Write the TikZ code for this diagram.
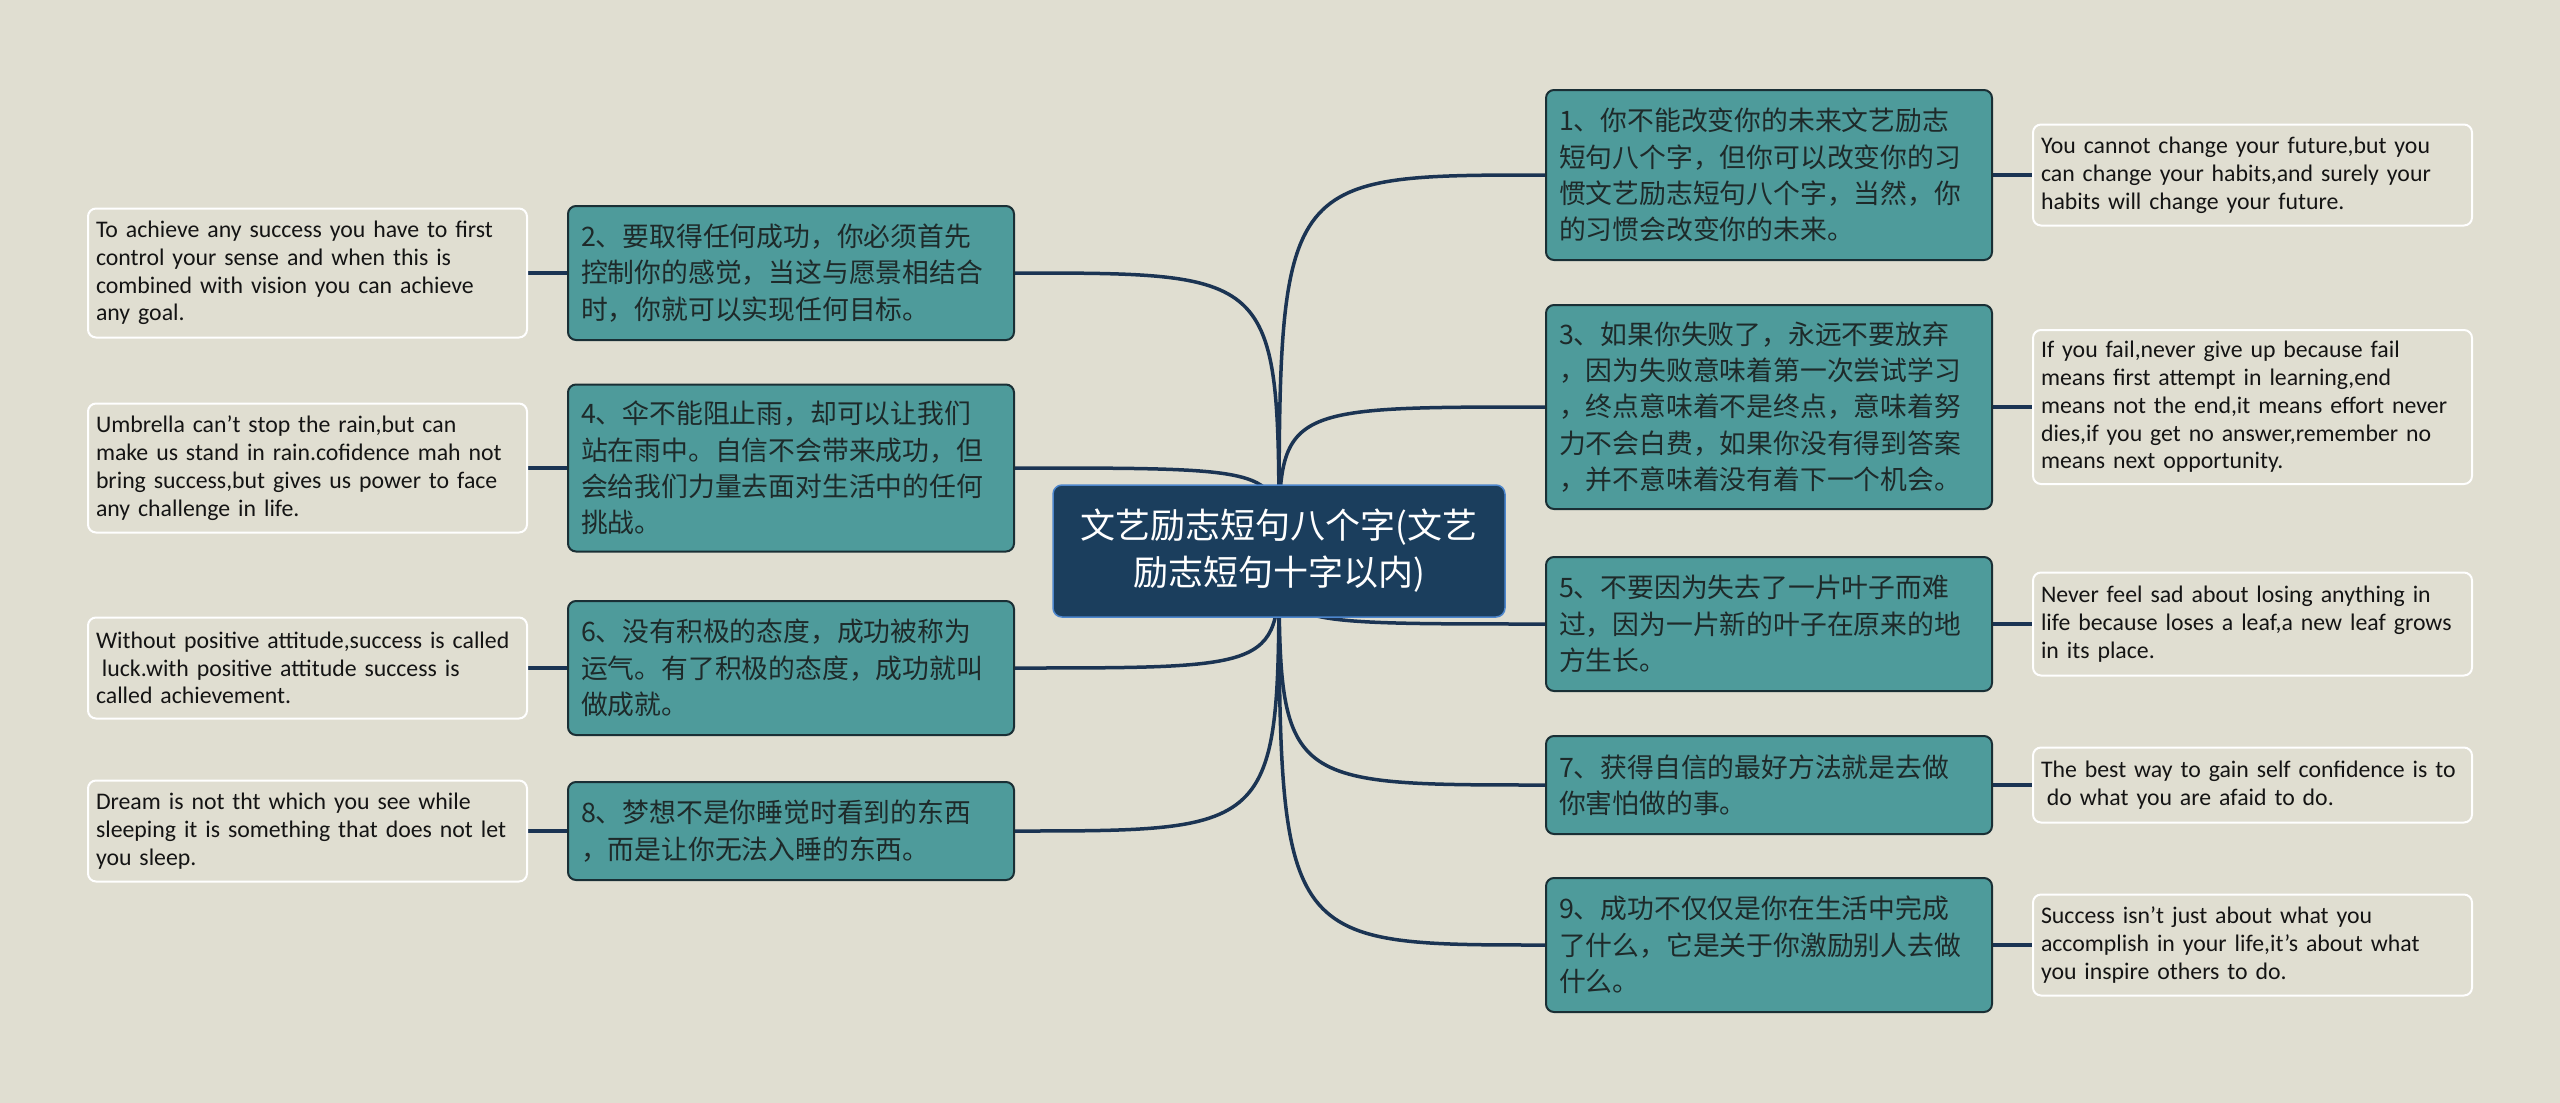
\documentclass[tikz,border=0pt]{standalone}
\usepackage{fontspec}
\setmainfont{Carlito}
\newfontfamily\cjk{Noto Sans CJK SC}
\usetikzlibrary{positioning}

\definecolor{paper}{HTML}{E0DED1}
\definecolor{linkcol}{HTML}{1B3453}
\definecolor{topicfill}{HTML}{1B3E5D}
\definecolor{topicline}{HTML}{4D86CC}
\definecolor{branchfill}{HTML}{4E9B9B}
\definecolor{branchline}{HTML}{1A2F35}
\definecolor{branchtext}{HTML}{1E2A2A}
\definecolor{notetext}{HTML}{141414}

\pgfdeclarelayer{back}
\pgfdeclarelayer{links}
\pgfsetlayers{back,links,main}

\begin{document}
\begin{tikzpicture}[
    x=1pt, y=-1pt,
    link/.style={draw=linkcol, line width=3.5pt},
    topic/.style={draw=topicline, fill=topicfill, rounded corners=9pt, line width=1.5pt,
                  text=white, font=\cjk\fontsize{35}{47}\selectfont, align=center,
                  minimum width=452pt, minimum height=132pt},
    branch/.style={draw=branchline, fill=branchfill, rounded corners=8pt, line width=2pt,
                   text=branchtext, font=\cjk\fontsize{26.8}{36.4}\selectfont,
                   minimum width=446pt, text width=420pt, align=left, inner sep=0pt},
    note/.style={draw=white, fill=paper, rounded corners=8pt, line width=2pt,
                 text=notetext, font=\fontsize{23.8}{27.8}\selectfont,
                 minimum width=439pt, text width=423pt, align=left, inner sep=0pt}
  ]
  \useasboundingbox (0,0) rectangle (2560,1103);
  \begin{pgfonlayer}{back}
    \fill[paper] (0,0) rectangle (2560,1103);
  \end{pgfonlayer}

  % central topic
  \node[topic] (topic) at (1279,551) {文艺励志短句八个字(文艺\\励志短句十字以内)};

  % right side
  \node[branch, minimum height=170pt] (b1) at (1769,175) {1、你不能改变你的未来文艺励志\\短句八个字，但你可以改变你的习\\惯文艺励志短句八个字，当然，你\\的习惯会改变你的未来。};
  \node[branch, minimum height=204pt] (b3) at (1769,407) {3、如果你失败了，永远不要放弃\\，因为失败意味着第一次尝试学习\\，终点意味着不是终点，意味着努\\力不会白费，如果你没有得到答案\\，并不意味着没有着下一个机会。};
  \node[branch, minimum height=134pt] (b5) at (1769,624) {5、不要因为失去了一片叶子而难\\过，因为一片新的叶子在原来的地\\方生长。};
  \node[branch, minimum height=98pt]  (b7) at (1769,785) {7、获得自信的最好方法就是去做\\你害怕做的事。};
  \node[branch, minimum height=134pt] (b9) at (1769,945) {9、成功不仅仅是你在生活中完成\\了什么，它是关于你激励别人去做\\什么。};

  \node[note, minimum height=101pt, right=39pt of b1] (n1) {You cannot change your future,but you\\can change your habits,and surely your\\habits will change your future.};
  \node[note, minimum height=154pt, right=39pt of b3] (n3) {If you fail,never give up because fail\\means first attempt in learning,end\\means not the end,it means effort never\\dies,if you get no answer,remember no\\means next opportunity.};
  \node[note, minimum height=103pt, right=39pt of b5] (n5) {Never feel sad about losing anything in\\life because loses a leaf,a new leaf grows\\in its place.};
  \node[note, minimum height=75pt,  right=39pt of b7] (n7) {The best way to gain self confidence is to\\\hspace*{.25em}do what you are afaid to do.};
  \node[note, minimum height=101pt, right=39pt of b9] (n9) {Success isn't just about what you\\accomplish in your life,it's about what\\you inspire others to do.};

  % left side
  \node[branch, minimum height=134pt] (b2) at (791,273) {2、要取得任何成功，你必须首先\\控制你的感觉，当这与愿景相结合\\时，你就可以实现任何目标。};
  \node[branch, minimum height=167pt] (b4) at (791,468) {4、伞不能阻止雨，却可以让我们\\站在雨中。自信不会带来成功，但\\会给我们力量去面对生活中的任何\\挑战。};
  \node[branch, minimum height=134pt] (b6) at (791,668) {6、没有积极的态度，成功被称为\\运气。有了积极的态度，成功就叫\\做成就。};
  \node[branch, minimum height=98pt]  (b8) at (791,831) {8、梦想不是你睡觉时看到的东西\\，而是让你无法入睡的东西。};

  \node[note, minimum height=129pt, left=39pt of b2] (n2) {To achieve any success you have to first\\control your sense and when this is\\combined with vision you can achieve\\any goal.};
  \node[note, minimum height=129pt, left=39pt of b4] (n4) {Umbrella can't stop the rain,but can\\make us stand in rain.cofidence mah not\\bring success,but gives us power to face\\any challenge in life.};
  \node[note, minimum height=101pt, left=39pt of b6] (n6) {Without positive attitude,success is called\\\hspace*{.25em}luck.with positive attitude success is\\called achievement.};
  \node[note, minimum height=101pt, left=39pt of b8] (n8) {Dream is not tht which you see while\\sleeping it is something that does not let\\you sleep.};

  % connectors
  \begin{pgfonlayer}{links}
    \foreach \b in {b1,b3,b5,b7,b9}
      \draw[link] (topic.center) .. controls (topic.center |- \b.west) .. (\b.west);
    \foreach \b in {b2,b4,b6,b8}
      \draw[link] (topic.center) .. controls (topic.center |- \b.east) .. (\b.east);
    \foreach \b/\n in {b1/n1,b3/n3,b5/n5,b7/n7,b9/n9}
      \draw[link] (\b.east) -- (\n.west);
    \foreach \b/\n in {b2/n2,b4/n4,b6/n6,b8/n8}
      \draw[link] (\b.west) -- (\n.east);
  \end{pgfonlayer}
\end{tikzpicture}
\end{document}
